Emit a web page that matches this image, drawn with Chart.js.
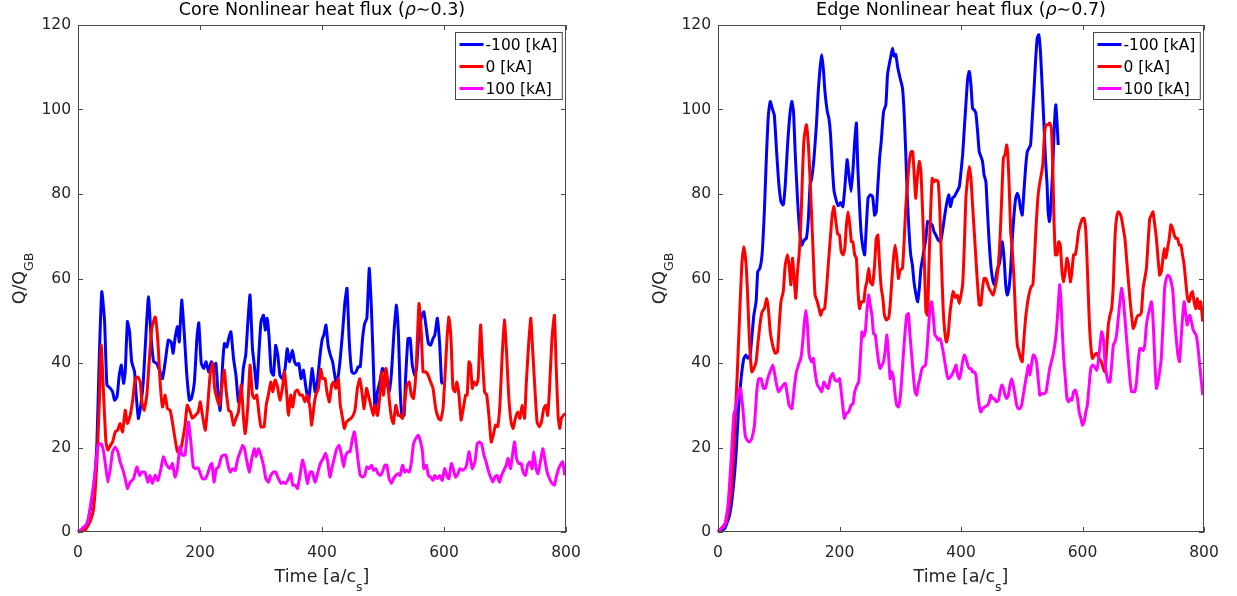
<!DOCTYPE html>
<html>
<head>
<meta charset="utf-8">
<title>Nonlinear heat flux</title>
<script src="https://cdn.jsdelivr.net/npm/chart.js@4.4.1/dist/chart.umd.min.js"></script>
<style>
  body{margin:0;background:#fff;width:1237px;height:596px;overflow:hidden;position:relative}
  canvas{position:absolute;top:0}
  #coreChart{left:0}
  #edgeChart{left:640px}
</style>
</head>
<body>
<canvas id="coreChart" width="618" height="596"></canvas>
<canvas id="edgeChart" width="597" height="596"></canvas>
<script>
// series labels / colours (MATLAB b, r, m)
const seriesLabels = ["-100 [kA]", "0 [kA]", "100 [kA]"];
const seriesColors = ["#0000ff", "#ff0000", "#ff00ff"];
const xTicks = [0, 200, 400, 600, 800];
const yTicks = [0, 20, 40, 60, 80, 100, 120];

// ---- core (rho~0.3), [time, Q/QGB] ----
const coreMinus100 = [[0,0],[10,0.5],[17,3],[25.6,10],[31,21],[35,42],[39,56.9],[43.6,49.8],[47.4,34.8],[53,34],[56.7,33.2],[60,31.2],[64,32],[67.6,37.1],[71,39.5],[74.7,35.2],[77.4,37.9],[81,49.8],[84.5,47.4],[88,40.3],[92.7,37.9],[95.4,32.4],[99,26.9],[103,30],[107,35.5],[111,45.8],[115.5,55.7],[120,45.8],[124,40.3],[129,39.9],[134.6,37.9],[138.5,36.3],[143,40.3],[148,45.4],[152.6,45],[156,42.3],[159,45.8],[163,48.6],[166,45],[170,54.9],[174.4,46.6],[178,37.9],[182.6,31.2],[186,31.6],[190.8,35.5],[195,46],[198,49.5],[202,40],[206,38.7],[210,40.3],[214,37.9],[218.5,40.3],[222,38.3],[226,39.9],[229.4,33.2],[233,28.8],[237,39.5],[240,44.6],[244,43.8],[247,45.8],[250.7,47.4],[255,41],[259,37],[263,30.8],[267.6,32.4],[271,38.7],[275,41.9],[278.5,49.8],[282,56.1],[286,43.4],[289,39.5],[293,34],[297,43.4],[300,49.8],[304,51.3],[307,47.8],[310,50.6],[313,46.6],[316.7,37.9],[320.5,37.1],[324,44.2],[327.5,41.9],[331,37.1],[335,36.3],[339.5,38.7],[343,43.4],[346.6,40.3],[351.5,43],[355,40.3],[358.6,39.5],[362,39.9],[365.7,36.3],[369.5,38.3],[373,34.8],[377.7,30.8],[380.4,34],[384,38.7],[388.6,33.2],[393,36.3],[396.8,41.9],[400.6,45.8],[403,46.6],[406.5,49],[410,44.2],[413.6,41.9],[417.4,40.3],[420,37.9],[423,35.5],[425.6,36],[429.4,40.3],[433.8,47.4],[437.6,54.5],[441,57.7],[444.7,45],[448.7,37.9],[452,37.5],[455.6,37.9],[459.4,39.1],[462.7,39.1],[466.5,45.8],[470,49.4],[473.6,50.6],[477.4,62.4],[481,52.9],[484,40.3],[487,28.4],[491,33.2],[494.8,35.5],[499,38.7],[503,37.9],[506.3,35.5],[510,33.2],[514,37.9],[518,47.4],[522,53.7],[525.4,46.6],[528,34],[531,27.6],[534.6,27.6],[537,36.3],[541,45.8],[544.5,45.8],[548,39.5],[552,37.1],[555,38.7],[559,47.4],[563.5,51.3],[567,52.1],[571,48.2],[574.4,44.6],[578,44.2],[582,45.8],[585,46.6],[589,50.6],[593,44.2],[596,35.5],[598,35]];

const coreZero = [[0,0],[12,0.5],[20,2.5],[25.6,5.5],[31,16.6],[35,30.8],[38,44.2],[42,32.4],[45.8,21.3],[49,19.4],[53,20.5],[56.7,21.3],[61,23.7],[65,24.1],[69,25.7],[73,23.7],[77.4,28.8],[81,25.7],[85.6,27.6],[90,31.6],[93.8,36.3],[98,36.7],[102,35.5],[104.7,30.8],[108.5,28.8],[112.8,32.4],[116.7,40.3],[121,48.2],[126.5,50.9],[131,45],[134.6,35.5],[138.5,29.6],[143,32.4],[146.6,29.2],[151,28.8],[154.8,26],[159,22.1],[163,19],[167,19],[171,21.3],[175.5,25.3],[179,30],[184,28.4],[187.5,26.9],[192,27.5],[197,28.4],[200.5,30.8],[204,27.6],[208.7,24.1],[212.5,29.6],[217,37.9],[221,39.9],[224,34],[227.8,31.6],[231.6,30],[236,34.8],[240,38.3],[242.5,34],[247,28.8],[250.7,28.4],[255,25.3],[259,26.9],[263,28.4],[267.6,34.8],[271.4,26.9],[274,23.3],[278.5,30],[282,39.5],[286,32.4],[289,31.6],[293,32.4],[297,27.6],[300,24.9],[305,24.9],[308.5,30],[312,32.4],[316,35.5],[319.4,33.2],[323,36],[327,34.4],[331,31.2],[335,34],[338.5,37.9],[342.3,32.4],[345,27.6],[348.8,32.4],[352,29.6],[356,33.2],[359.7,33.6],[364,32.4],[368,32.4],[372,30.8],[376,32.4],[380.4,29.2],[383,25.3],[387,30],[390,32.5],[394,34],[398,38.5],[401,36.3],[405,36.3],[408,33.2],[412,30.8],[416,34.8],[419,35.5],[423,34],[426.7,36.3],[430,30],[433.8,26.9],[436.5,24.5],[440,26],[443.6,26.5],[447.4,26.9],[451,27.6],[454.5,29.2],[458,34],[462,36.3],[465.4,33.2],[469,29.2],[473,34],[476,32.4],[480,30],[484,27.6],[487,30],[491,27.6],[495,32.4],[498,37.9],[501,32.4],[504.7,38.7],[507.4,36.3],[510,31.6],[514,26.9],[517,25.7],[521,30],[525,27.6],[528,27.6],[532,26.9],[535.7,30.8],[539,34.8],[543,35.5],[546.6,32.4],[550,31.6],[553.7,37.1],[556.4,45.8],[559,54.1],[562.4,48.2],[565.7,37.9],[570,37.9],[574,37.1],[578,35.5],[582,34],[586.4,29.2],[591,26.9],[594.6,26.5],[598.4,29.2],[602,38],[605,46],[608,50.9],[611.4,45.8],[614.7,34],[618,33.2],[621,35.5],[624.5,32.4],[628,26.5],[631.6,29.2],[635.4,32.4],[638,32.4],[641,40.3],[643.6,39.5],[646.3,34],[649,35.5],[653,34.8],[656,36.3],[660,49],[662.7,41.9],[666.5,33.2],[670,32.4],[673.6,27.6],[677.4,21.3],[680.7,22.9],[684.5,25.3],[688,24.9],[691.6,30],[695.4,41.9],[699,50.2],[702.5,42.7],[706,32.4],[710,26],[713.4,24.5],[717,26.9],[721,28.4],[724.3,26.9],[728,30],[732,26.9],[735,35.5],[739,45],[742.3,50.6],[745.5,42.7],[749,34],[752.6,26],[756.5,24.9],[759.7,26],[763.5,29.2],[767,30],[770,27.6],[773,34],[777,45.8],[781,51.3],[784,38.7],[787,27.6],[789.7,24.5],[792.4,26.9],[795.7,27.6],[799,28]];

const corePlus100 = [[0,0],[15,2],[23,8.7],[28,14.2],[32.7,20.5],[38,20.9],[42,19],[45.8,15],[49,11.8],[53,15],[56.7,19],[61,20.1],[65.4,19],[69,16.6],[73,15],[77.4,12.6],[81,10.3],[85.6,11.8],[91,12.6],[96.5,15.4],[101,13.4],[104.7,14.2],[110,14.1],[114.5,11.8],[118,13.4],[122,11.5],[126.5,13.4],[131,12.2],[136,15],[140,17.8],[145.5,15.8],[151,15],[154.8,16.2],[159,13],[163,15],[167,20.1],[171,18.2],[175.5,18.2],[181,26],[185,21.3],[189,15.4],[193,15],[197,15.2],[200.5,13.8],[204,12.6],[208.7,12.6],[212.5,13.8],[217,15.8],[219.6,16.2],[223,11.8],[226.7,15],[230.5,15.4],[235,17.8],[238.7,18.2],[242.5,18.2],[245.8,15.8],[249.6,14.2],[253.4,15],[257.8,14.6],[262,17.4],[266,19],[269.8,20.5],[273,19.7],[277,16.6],[281,14.2],[285,17.4],[289,19.7],[292,17.8],[296,19.7],[299.8,18.2],[304,15.8],[308,12.6],[312,11.8],[316,13.4],[320.5,14.2],[324,14.2],[328.6,12.6],[333,11.5],[337,11.8],[340.6,11.5],[345,12.6],[348.8,13.8],[352,11.1],[356,11.1],[359.7,10.3],[364,13.4],[368,17],[372,15],[376,11.5],[380.4,14.2],[384,14.2],[388.6,11.8],[392,13.4],[396.8,16],[400,17],[402,17.4],[405.5,18.6],[409,17],[413,13],[416,15],[420,17.4],[424,19.7],[428,20.5],[432,18.2],[435.4,15.4],[439,18.2],[443,19],[446,19],[450,22.1],[453,23.7],[455.6,21.3],[459.4,16.6],[462.7,13.4],[466.5,13],[470,13.4],[473.6,15.4],[477.4,15],[481,15.8],[484.5,14.6],[488,15],[492,13.8],[495.4,13.4],[499,14.2],[503,15.8],[506.3,15.8],[510,12.6],[514,11.5],[517,12.6],[521,13.4],[525,13.8],[528,13.4],[532,15.8],[535.7,14.2],[539,14.6],[543,14.2],[546.6,16.6],[550,20.9],[553.7,22.1],[557.5,22.9],[561,21.7],[564.7,19],[567,15],[571,15.8],[574.4,13.4],[578,13],[582,12.2],[585,13.4],[589,12.6],[593,13.4],[597,12.2],[601,15],[604.4,13.4],[608,12.6],[612,16.2],[615,15],[619,13],[622.9,13.8],[626,15],[630,14.6],[634,15],[637,15.8],[641,19],[643.6,17],[646.3,15],[650.7,16.6],[654.5,20.9],[658,21.3],[661.6,20.9],[665.4,18.2],[669,16.6],[672.5,14.6],[676.3,13],[680,11.8],[683.4,13],[687,13.4],[691,11.8],[694.3,13.4],[698,14.6],[702,15.8],[705,17.4],[709,15],[713,19],[715.6,21.3],[719,17.4],[722.6,16.2],[726.5,16.2],[729.7,14.2],[733.5,13.4],[737,15.8],[740.6,16.6],[744.5,15],[747,19],[751,15],[754,13.8],[758,16.6],[762,19.7],[765,17.4],[769,14.2],[773,12.6],[777,11.5],[781,11.1],[784,13],[788,15],[792,16.2],[794.6,16.6],[798,13.4]];

// ---- edge (rho~0.7) ----
const edgeMinus100 = [[0,0],[10.9,0.8],[19,4],[24.5,9.5],[30,19],[33.8,29.2],[38,36.3],[42.5,41.1],[46,41.9],[49,41.1],[53,41.9],[56,46.6],[59,51.3],[62.7,54.5],[65.4,61.6],[69,62.4],[72.5,65.6],[76.3,75.8],[79.6,88.5],[82.9,98.7],[86,101.9],[90,99.9],[92.7,98.7],[96.5,90],[99.8,82.9],[103.6,78.2],[107.4,77.4],[110.7,82.1],[114.5,91.6],[118.3,98.7],[121.6,101.9],[124.3,99.5],[127,90],[130.8,79],[134.6,71.1],[137.9,67.9],[141.7,69.1],[145.5,69.5],[148.8,74.2],[151.5,82.1],[154.3,83.7],[158,88.5],[162,96.4],[165,104.3],[168,109.8],[170.6,113],[173.3,109.8],[176,104.3],[179.9,99.5],[182.6,97.9],[185.3,94],[188,86.9],[190.8,81],[194.6,78.5],[198,77.2],[201.7,78],[205.5,77],[208.7,81.4],[212.5,88.1],[215,85.3],[219,80.6],[222,85.3],[225,92.4],[227.8,96.8],[230,86.9],[232.7,78.2],[235.4,71.1],[238.7,67.1],[241.4,65.6],[244,71.9],[247,79],[250.7,79.8],[254.5,79.4],[257.8,75],[260.5,75.8],[263.2,82.1],[266,88.5],[268.7,92.4],[272.5,99.5],[276.3,101.1],[279,108.2],[281.8,110.6],[284.5,112.6],[287.2,114.5],[290,112.6],[292.7,113],[296,109.8],[299.8,107.4],[303.6,105.1],[306.3,99.5],[309,90],[311.7,79],[314.5,71.1],[317.2,65.6],[320,63.2],[322.6,59.2],[326,56.1],[328.6,54.5],[331.4,57.7],[334,62.4],[336.8,64.8],[339.5,67.1],[342.3,69.5],[345,73.5],[348.8,73.1],[352.6,72.7],[355.4,71.1],[358.6,70.3],[362.4,69.1],[366.3,68.7],[369.5,71.1],[373.3,75],[377,78.2],[380,79.8],[382.6,77],[386,79],[389.5,79.5],[393.5,80.6],[397.3,81.8],[400,85.3],[402.7,89.3],[405.5,95.6],[408,101.1],[411,107.4],[413.6,109],[416.4,105.8],[419,100.3],[421.8,99.9],[424.5,99.1],[427.3,94.8],[430,90],[432.7,88.9],[435.4,87.7],[438,84.5],[441,82.9],[443.6,75.8],[446.3,68.7],[449,63.2],[451.8,60],[454.5,58.5],[457.2,60],[460,62.4],[462.7,63.2],[465.4,65.6],[468,68.7],[470.9,64.8],[473.6,58.5],[476.3,56.1],[479,57.7],[481.8,62.4],[484.5,69.5],[487.2,75],[490,79],[492.7,80.2],[495.4,79],[498,76.6],[500.8,75],[503.6,80.6],[506.3,86.1],[509,90],[511.7,90.8],[514.5,91.6],[517,97.2],[520,104.3],[522.7,111.4],[525.4,116.9],[528,117.7],[530.8,113.7],[533.5,105.8],[536.3,97.2],[539,88.5],[541.7,82.1],[543.4,75.8],[545.5,73.5],[548,77.4],[551,86.1],[553.7,96.4],[556,101.1],[558,97.2],[560,91.6]];

const edgeZero = [[0,0],[13.6,2.4],[21.8,9.5],[27.3,23.7],[31.6,37.1],[35.4,50.6],[39.2,63.2],[42.5,67.5],[46.3,63.2],[49,55.3],[51.8,45],[55.6,37.9],[59,38.7],[62.7,40.3],[65.4,44.2],[69,49],[72.5,52.1],[76.3,52.9],[80,55.3],[82.9,52.9],[86,47.4],[90,44.2],[94.3,42.3],[98,42.7],[100.8,49],[103.6,54.5],[107.4,56.9],[110.7,63.2],[114.5,65.6],[117,63.2],[120,58.5],[122.6,64.8],[125.4,60],[128,55.3],[130.8,61.6],[133.5,65.6],[136.3,72.7],[139,84.5],[141.7,93.2],[145.5,96.4],[148.8,91.6],[151.5,83.7],[154.3,74.2],[157,64.8],[159.7,56.1],[163.5,54.5],[166.3,52.9],[169,51.3],[171.7,52.5],[175.5,52.9],[178.3,56.9],[181.5,63.2],[185.3,70.3],[188,75],[190.8,77],[194,73.5],[197,70.5],[200,70.3],[202.7,66.4],[206,65.6],[208.7,67.1],[211.4,72.7],[214,75.8],[217,72.7],[219.6,68.7],[222,68.7],[225,65.6],[227.8,64.8],[230.5,56.9],[233,52.9],[236,54.5],[239.8,54.5],[242.5,57.7],[245,59.2],[248,62.4],[250.7,59.2],[254.5,58.5],[257.8,63.2],[260.5,69.5],[263.2,70.3],[266,63.2],[268.7,57.7],[271.4,55.3],[274,51.3],[277,50.2],[280.7,50.6],[283.4,53.7],[286,59.2],[288.9,64.8],[291.6,67.9],[294.3,64.8],[297,60],[299.8,62],[303.6,62.4],[306.3,68.7],[309,76.6],[311.7,82.1],[315,87.7],[317.7,90],[320.5,90],[323,84.5],[325.4,79],[328,83.7],[331.4,87.7],[334,85.3],[336.8,75.8],[339.5,64.8],[342.3,52.1],[345,51.3],[347.2,63.2],[350,75.8],[352.6,83.7],[355.4,82.9],[358.6,83.3],[362.4,82.9],[365.2,75.8],[368,63.2],[370.6,52.9],[373.3,47.4],[376,45],[378.8,46.6],[381.5,51.3],[384.2,54.5],[387,56.9],[390.8,55.5],[394,56],[397.3,54.1],[400,56.1],[402.7,58.5],[405.5,67.9],[408,79],[411,83.7],[413.6,86.5],[416.4,83.7],[419,77.4],[421.8,71.1],[424.5,64.8],[427.3,58.5],[430,53.7],[432.7,53.7],[435.4,57.7],[438,60],[441,60],[443.6,58.8],[446.3,57.7],[449,56.9],[452.9,56.1],[456,57.7],[458.9,60],[461.6,63.2],[464.3,69.5],[467,79],[469.8,88.5],[472.5,89.3],[475.2,91.6],[477.4,88.5],[479.6,80.6],[481.8,71.1],[484.5,66.4],[487.2,60],[490,50.6],[492.7,44.2],[495.4,42.7],[498,41.1],[500.8,40.3],[503.6,45.8],[506.3,50.6],[509,53.7],[511.7,56.1],[515.6,58.1],[518.3,58.5],[521,64.8],[523.7,72.7],[526.5,79],[529,82.1],[532,84.5],[534.6,86.9],[537.4,94],[540,96.4],[543.4,96.4],[546,96.8],[548.8,95.6],[551,86.9],[553,74.2],[555.4,65.6],[558,65.6],[560.8,68.7],[563.5,67.9],[566.3,61.6],[569,59.2],[571.7,61.6],[574.4,64.8],[577,63.2],[580,59.2],[582.6,61.6],[585.3,65.6],[588,65.6],[590.8,67.9],[593.5,71.1],[596.2,72.7],[600,74.2],[602.7,74.2],[605.5,71.1],[608,62.4],[611,50.6],[613.6,44.2],[616.4,41.1],[620,41.9],[623.4,42.3],[627.3,41.1],[631,40.3],[634.3,38.7],[637,37.9],[639.8,43.4],[642.5,49],[645.2,51.3],[648,52.9],[650.7,58.5],[653.4,69.5],[656,74.2],[658.9,75.8],[661.6,75.4],[664.3,74.2],[667,71.9],[669.8,69.5],[672.5,64.8],[675.2,60],[678,55.3],[680.7,51.3],[683.4,48.2],[686,49],[688.9,50.6],[691.6,51.3],[694.3,51.3],[697,52.1],[699.8,57.7],[702.5,60],[705.2,62.4],[708,68.7],[710.7,74.2],[713.4,75],[716,75.8],[718.9,72.7],[721.6,69.5],[724.3,64.8],[727,60.8],[729.7,61.6],[732.5,64.8],[734.6,67.1],[737.4,64.8],[740,67.1],[742.8,69.5],[745.5,72.7],[748.3,71.9],[751,70.3],[753.7,69.5],[756.4,69.5],[759.2,67.9],[762,67.9],[764.6,65.6],[767.3,63.2],[770,59.2],[772.8,55.3],[775.5,54.5],[778,56.1],[781,56.9],[783.7,54.5],[786.4,52.9],[789,55.3],[791.9,52.9],[794.6,54.5],[797.9,49.8]];

const edgePlus100 = [[0,0],[10.9,1.6],[16.4,6.3],[21.8,17.4],[26,27.6],[30,30],[33.8,33.2],[37,34],[40.9,29.2],[44.7,22.9],[48,21.7],[51.8,21.3],[55.6,22.1],[60,25.3],[63.8,33.2],[67,36.3],[70.9,36.3],[74.7,34],[78,34],[81.8,36.3],[85.6,37.9],[90,39.5],[92.7,37.9],[96.5,34.8],[99.8,33.2],[103.6,34],[107.4,34.8],[110.7,35.2],[113.4,33.2],[117,30],[121.6,29.2],[125.4,34],[129,37.9],[132.5,39.5],[136.3,41.1],[139,44.2],[141.7,49],[144.5,52.5],[147.2,49],[150,41.9],[153.7,40.3],[157,41.1],[159.7,37.9],[163.5,34.8],[167.3,34],[170.6,33.2],[174.4,35.5],[178.3,34.4],[181.5,34],[185.3,36.7],[189,37.5],[192.4,36],[196.2,35.7],[200,36.3],[203,33],[206,29],[208,26.9],[211,28],[215,28.4],[219,30],[222.4,30.4],[225,33.2],[228.9,34.8],[231.6,35.5],[234.3,41.1],[237,47.4],[239.8,46.2],[242.5,47.4],[245,52.1],[248,56.1],[250.7,53.7],[253.4,51.3],[256,47],[258.9,46.6],[261.6,43.4],[264.3,40.3],[267,38.7],[269.8,39.5],[272.5,40.3],[275.2,43],[278,46.6],[280.7,41.9],[283.4,36.3],[286,37.9],[288.9,36.3],[291.6,32.4],[294.3,30],[297,29.6],[299.8,31.6],[302.5,36.3],[305,41.9],[308,47.4],[310.6,51.3],[313.4,51.7],[316,46.6],[318.8,41.9],[321.5,37.1],[324.3,33.2],[327,32.4],[329.7,34.8],[332.4,36.3],[335,38.3],[337.9,39.1],[341.7,39.5],[345,45],[347.7,50.6],[351.5,54.5],[354.3,51.3],[357,46.6],[359.7,46.2],[362.4,45.4],[365.2,45.8],[368,44.6],[370.6,42.7],[373.3,40.3],[376,37.9],[378.8,36.3],[382.6,36.7],[386,37.5],[389,38.5],[391.8,39.5],[394.5,37.1],[397.3,36.3],[400,37.9],[402.7,40.3],[405.5,41.9],[408,41.1],[411,39.5],[413.6,38.7],[416.4,38.7],[419,37.9],[421.8,37.9],[424.5,37.1],[427.3,33.2],[430,30],[432.7,28.4],[435.4,29.2],[439,29.6],[443.6,30],[446.3,30.8],[449,32.4],[451.8,31.6],[454.5,31.6],[458.3,30.8],[461.6,31.2],[464.3,33.2],[467,34.8],[469.8,34],[472.5,32.4],[475.2,31.6],[478,32.4],[480.7,34.8],[483.4,36.3],[486,34.8],[488.9,32.4],[491.6,30],[494.3,29.2],[497,29.2],[499.8,30],[502.5,32.4],[505.2,34.8],[508,37.1],[510.7,39.5],[513.4,37.1],[516,39.5],[518.9,41.9],[521.6,41.5],[524.3,40.3],[527,36.3],[529.7,32.4],[532.5,32.7],[536.3,32.7],[540,33.2],[543.4,36.3],[546,38.7],[548.8,40.3],[551.5,41.9],[554.3,44.2],[557,47.4],[559.7,52.9],[562.4,58.5],[564.6,54.5],[566.8,47.4],[569,41.1],[571.7,36.3],[574.4,31.6],[577,30.8],[580,31.6],[582.6,31.2],[585.3,33.2],[588,33.6],[591.8,31.6],[594.5,28.4],[597.3,26.9],[600,25.3],[602.7,26.1],[605.5,28.4],[608,30],[611,34.8],[613.6,38.7],[616.4,39.5],[620,39.1],[623.4,38.3],[626,40.3],[628.9,44.2],[631.6,47.4],[634.3,45.8],[637,40.3],[639.8,37.1],[642.5,35.5],[645.2,35.5],[648,39.5],[650.7,44.2],[653.4,45],[656,46.6],[658.9,50.6],[661.6,54.5],[664.3,57.7],[667,55.3],[669.8,50.6],[672.5,45.8],[675.2,41.1],[678,36.3],[680.7,33.2],[683.4,33.2],[686,33.2],[688.9,35.5],[691.6,40.3],[694.3,43.4],[697,43.4],[699.8,43],[702.5,44.2],[705.2,49],[708,51.3],[710.7,52.9],[713.4,54.5],[716,50.6],[718.9,41.1],[721.6,34],[724.3,35.5],[727,37.9],[729.7,41.1],[732.5,49],[735.2,57.7],[738,60],[740.6,60.8],[743.4,60.4],[746,59.2],[748.8,56.9],[751.5,50.6],[754.3,45.8],[757,41.9],[759.7,40.3],[762,45],[764.6,50.6],[767.3,54.5],[769.5,52.1],[772.3,49],[774.4,50.6],[776.6,51.3],[779.3,49.8],[781.5,48.2],[783.7,47.4],[787,46.6],[789.7,44.2],[792.4,40.3],[795.2,36.3],[797.9,32.4]];

const FONT = "'DejaVu Sans', 'Liberation Sans', sans-serif";
const TEXT = "#262626";
const AXIS = "#4a4a4a";

function toPoints(pairs){
  return pairs.map(p => ({ x: p[0], y: p[1] }));
}

function drawParts(ctx, parts, x, y){
  // parts drawn left to right, centred on x
  let total = 0;
  for(const p of parts){ ctx.font = p.font; total += ctx.measureText(p.text).width; }
  let cx = x - total/2;
  for(const p of parts){
    ctx.font = p.font;
    ctx.fillText(p.text, cx, y + (p.dy || 0));
    cx += ctx.measureText(p.text).width;
  }
}

// MATLAB style box: frame, inward ticks on all sides, title, axis labels, legend
const matlabBox = {
  id: "matlabBox",
  afterDraw(chart, args, opts){
    const { ctx, chartArea: a, scales } = chart;
    const xs = scales.x, ys = scales.y;
    ctx.save();

    ctx.strokeStyle = AXIS;
    ctx.lineWidth = 1;
    ctx.strokeRect(Math.round(a.left) + 0.5, Math.round(a.top) + 0.5,
                   Math.round(a.right - a.left) - 1, Math.round(a.bottom - a.top) - 1);
    const tl = 5;
    ctx.beginPath();
    for(const v of xTicks){
      const px = Math.round(xs.getPixelForValue(v)) + 0.5;
      ctx.moveTo(px, a.bottom); ctx.lineTo(px, a.bottom - tl);
      ctx.moveTo(px, a.top); ctx.lineTo(px, a.top + tl);
    }
    for(const v of yTicks){
      const py = Math.round(ys.getPixelForValue(v)) + 0.5;
      ctx.moveTo(a.left, py); ctx.lineTo(a.left + tl, py);
      ctx.moveTo(a.right, py); ctx.lineTo(a.right - tl, py);
    }
    ctx.stroke();

    const cx = (a.left + a.right) / 2;
    const cy = (a.top + a.bottom) / 2;
    const big = "17.5px " + FONT;
    const sub = "12.5px " + FONT;

    // title
    ctx.fillStyle = "#000";
    ctx.textBaseline = "alphabetic";
    drawParts(ctx, [
      { text: opts.titleLead, font: big },
      { text: "\u03c1", font: "italic " + big },
      { text: "\u223c" + opts.titleRho + ")", font: big }
    ], cx, 15);

    // x label
    ctx.fillStyle = TEXT;
    drawParts(ctx, [
      { text: "Time [a/c", font: big },
      { text: "s", font: sub, dy: 9 },
      { text: "]", font: big }
    ], cx, 582);

    // y label
    ctx.save();
    ctx.translate(25, cy);
    ctx.rotate(-Math.PI/2);
    drawParts(ctx, [
      { text: "Q/Q", font: big },
      { text: "GB", font: sub, dy: 8 }
    ], 0, 0);
    ctx.restore();

    // legend
    ctx.font = "15.5px " + FONT;
    let tw = 0;
    for(const l of seriesLabels) tw = Math.max(tw, ctx.measureText(l).width);
    const bw = 4 + 24 + 2 + tw + 5, bh = 67;
    const bx = Math.round(a.right - 4 - bw) + 0.5, by = Math.round(a.top + 7) + 0.5;
    ctx.fillStyle = "#fff";
    ctx.fillRect(bx, by, bw, bh);
    ctx.strokeStyle = AXIS;
    ctx.lineWidth = 1;
    ctx.strokeRect(bx, by, bw, bh);
    ctx.textBaseline = "middle";
    chart.data.datasets.forEach((ds, i) => {
      const ry = by + 12 + i * 22;
      ctx.strokeStyle = ds.borderColor;
      ctx.lineWidth = 3;
      ctx.beginPath();
      ctx.moveTo(bx + 4, ry); ctx.lineTo(bx + 28, ry);
      ctx.stroke();
      ctx.fillStyle = "#000";
      ctx.fillText(ds.label, bx + 30, ry + 1);
    });
    ctx.restore();
  }
};

function makeChart(id, series, rightPad, titleLead, titleRho){
  const datasets = series.map((s, i) => ({
    label: seriesLabels[i],
    data: toPoints(s),
    borderColor: seriesColors[i],
    backgroundColor: seriesColors[i],
    borderWidth: 3,
    pointRadius: 0,
    tension: 0.15,
    fill: false,
    clip: 6,
    order: 3 - i
  }));
  const tickFont = { family: FONT, size: 15.5 };
  return new Chart(document.getElementById(id), {
    type: "line",
    data: { datasets },
    plugins: [matlabBox],
    options: {
      responsive: false,
      animation: false,
      devicePixelRatio: 1,
      layout: { padding: { left: 0, top: 25, right: rightPad, bottom: 0 } },
      plugins: {
        legend: { display: false },
        title: { display: false },
        tooltip: { enabled: false },
        matlabBox: { titleLead, titleRho }
      },
      scales: {
        x: {
          type: "linear", min: 0, max: 800,
          afterBuildTicks(s){ s.ticks = xTicks.map(v => ({ value: v })); },
          afterFit(s){ s.height = 64; },
          ticks: { color: TEXT, font: tickFont, padding: 12, maxRotation: 0, autoSkip: false },
          grid: { display: false, drawTicks: false },
          border: { display: false }
        },
        y: {
          min: 0, max: 120,
          afterBuildTicks(s){ s.ticks = yTicks.map(v => ({ value: v })); },
          afterFit(s){ s.width = 78; },
          ticks: { color: TEXT, font: tickFont, padding: 7, autoSkip: false },
          grid: { display: false, drawTicks: false },
          border: { display: false }
        }
      }
    }
  });
}

makeChart("coreChart", [coreMinus100, coreZero, corePlus100], 52, "Core Nonlinear heat flux (", "0.3");
makeChart("edgeChart", [edgeMinus100, edgeZero, edgePlus100], 33, "Edge Nonlinear heat flux (", "0.7");
</script>
</body>
</html>
